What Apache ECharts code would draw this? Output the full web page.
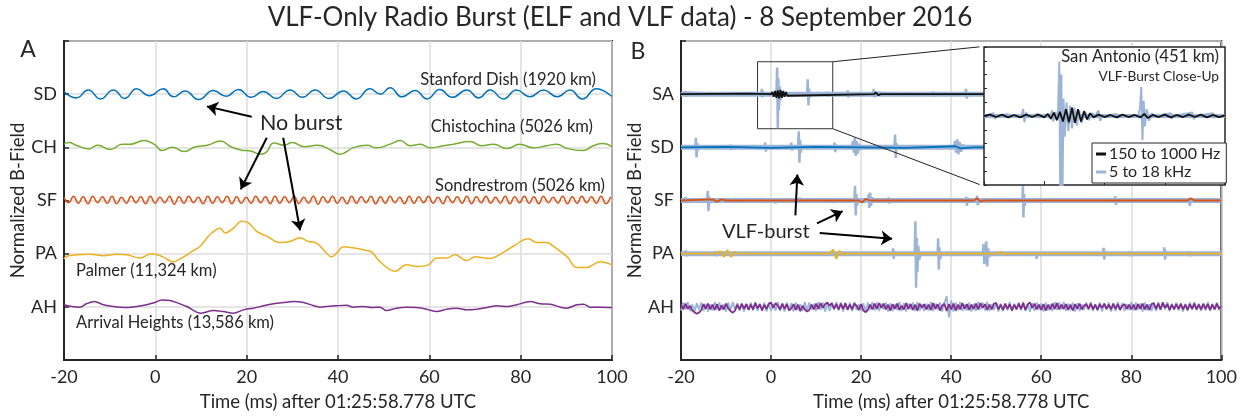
<!DOCTYPE html>
<html><head><meta charset="utf-8">
<script src="https://cdn.jsdelivr.net/npm/echarts@6/dist/echarts.min.js"></script>
<style>html,body{margin:0;padding:0;background:#fff}#c{width:1240px;height:417px}</style>
</head><body><div id="c"></div>
<script>
// ---------- labels ----------
const xTicks = [-20, 0, 20, 40, 60, 80, 100];
const stationsA = ['AH', 'PA', 'SF', 'CH', 'SD'];   // levels 1..5
const stationsB = ['AH', 'PA', 'SF', 'SD', 'SA'];   // levels 1..5

// ---------- Panel A (ELF, offsets from station level) ----------
const sdA = [[-20,0.05],[-17.3,-0.07],[-14.7,0.08],[-12,-0.09],[-9.2,0.08],[-6.7,-0.08],[-4.1,0.1],[-1.3,-0.03],[1.7,0.1],[4,-0.05],[6.5,0.06],[9.5,-0.1],[12.7,0.07],[15.5,-0.04],[18.2,0.09],[21,-0.06],[23.6,0.05],[26.5,-0.08],[29.5,0.08],[32.2,-0.06],[35,0.08],[38,-0.08],[41.2,0.06],[44,-0.09],[47,0.1],[49.3,0],[51.4,0.12],[54,-0.05],[56.9,0.07],[59.5,-0.09],[62.3,0.09],[65,-0.06],[68.2,0.08],[70.8,-0.07],[73.3,0.08],[76.2,-0.09],[79.1,0.08],[82,-0.05],[85,0.08],[88,-0.05],[90.8,0.08],[93.5,-0.09],[96.6,0.1],[99.9,-0.04]];
const chA = [[-20,0.06],[-18.9,0.09],[-17.4,0.04],[-14.5,-0.03],[-12.7,0.04],[-9.8,-0.04],[-7.2,0.06],[-5.4,0.06],[-2.5,0.13],[-0.3,0.06],[1.5,-0.06],[3.7,0],[6.3,-0.08],[8.8,0.01],[11.4,0.04],[14.3,0.12],[16.5,0.01],[18.7,-0.05],[20.9,-0.07],[23.1,-0.13],[24.2,-0.1],[26,0.08],[28.2,0.04],[30,0.09],[32.6,0.01],[35.5,0.04],[38.4,-0.05],[40.4,-0.13],[43.3,-0.01],[46.3,0.04],[48.5,-0.01],[51.4,0.06],[53.6,0.13],[55.8,0.03],[58,0.06],[60.2,-0.01],[63.1,0.03],[65.3,0.06],[68.9,0.11],[71.5,0.03],[74,0.06],[77,-0.02],[79.8,0.06],[82.8,-0.01],[85.7,0.03],[87.9,0.06],[90.1,-0.02],[93.7,-0.06],[95.9,0.03],[98.1,0.07],[100,0.01]];
// Sondrestrom: extrema every ~1.05 ms starting at -20
const sfA_t0 = -20, sfA_dt = 1.05;
const sfA = [0.06,-0.04,0.08,-0.05,0.07,-0.06,0.08,-0.04,0.07,-0.05,
0.08,-0.06,0.06,-0.05,0.08,-0.04,0.07,-0.06,0.08,-0.05,
0.06,-0.04,0.08,-0.07,0.07,-0.05,0.08,-0.04,0.06,-0.06,
0.08,-0.05,0.07,-0.04,0.08,-0.06,0.07,-0.05,0.06,-0.05,
0.08,-0.04,0.07,-0.06,0.08,-0.05,0.07,-0.04,0.08,-0.06,
0.06,-0.05,0.08,-0.07,0.07,-0.04,0.08,-0.05,0.06,-0.06,
0.08,-0.05,0.07,-0.04,0.08,-0.06,0.07,-0.05,0.08,-0.04,
0.06,-0.06,0.08,-0.05,0.07,-0.04,0.08,-0.05,0.06,-0.06,
0.08,-0.04,0.07,-0.05,0.08,-0.06,0.07,-0.04,0.08,-0.05,
0.06,-0.05,0.08,-0.06,0.07,-0.04,0.08,-0.05,0.07,-0.06,
0.08,-0.04,0.06,-0.05,0.08,-0.06,0.07,-0.05,0.08,-0.04,
0.07,-0.05,0.08,-0.06,0.07];
const paA = [[-20,-0.1],[-19.4,-0.05],[-17.2,-0.02],[-14.3,-0.01],[-11.4,-0.04],[-8.5,-0.01],[-6.3,-0.02],[-3.4,-0.08],[-0.8,0],[1.7,-0.06],[3.9,-0.15],[5.8,-0.08],[8,0.04],[9.8,0.14],[12,0.36],[14.2,0.48],[15.3,0.39],[17.1,0.48],[18.9,0.61],[20.4,0.58],[22.2,0.42],[24.4,0.33],[27.3,0.21],[29.5,0.23],[31.7,0.3],[33.5,0.23],[35.3,0.2],[36.8,0.075],[38.6,-0.06],[39.7,0.01],[41.2,0.13],[43.3,0.11],[46.3,0.06],[47.4,0.03],[49.2,-0.15],[52.5,-0.33],[55,-0.21],[57.2,-0.24],[59.8,-0.21],[61.6,-0.08],[63.8,-0.08],[65.6,-0.02],[68.2,-0.13],[70,-0.06],[73.3,-0.09],[74.7,-0.05],[78.4,0.14],[81.7,0.28],[83.5,0.21],[85.7,0.21],[87.1,0.14],[90.1,-0.05],[92.3,-0.26],[94.4,-0.26],[97.4,-0.15],[100,-0.21]];
const ahA = [[-20,0.04],[-18.3,0.006],[-16.5,-0.006],[-15.1,0.057],[-13.3,0.1],[-11.4,0.04],[-9.2,0.006],[-6.3,-0.013],[-4.1,0.006],[-1.9,0.04],[-0.1,0.08],[1.4,0.13],[3.2,0.12],[5,0.07],[6.9,0.006],[9.8,-0.12],[12.7,-0.07],[14.9,-0.09],[17.1,-0.12],[19.3,-0.057],[21.5,-0.025],[23.7,0.02],[25.9,0.057],[28.1,0.08],[30.3,0.1],[32.5,0.08],[34.7,0.02],[36.1,-0.006],[37.5,0.006],[39.7,0.02],[41.9,0.03],[43.3,-0.006],[45.5,0.006],[47.4,-0.013],[49.2,-0.006],[50.6,-0.07],[52.8,-0.025],[55,-0.006],[57.2,-0.013],[59.4,-0.044],[61.6,-0.09],[63.8,-0.044],[66,-0.025],[68.2,-0.057],[70.4,-0.044],[72.6,-0.013],[74.8,0.02],[77,0.006],[79.2,0.04],[82.1,0.1],[84.3,0.057],[86.5,0.05],[88.7,-0.006],[90.1,-0.025],[92.3,0.04],[93.8,0.05],[95.2,-0.006],[97.4,-0.006],[100,-0.013]];

// ---------- Panel B (VLF = light blue, ELF = colour) ----------
const vlfBand = [[-20,0],[100,0]];   // background VLF noise level
const saVLF = [[-20,0],[-18.9,0.05],[-18.8,-0.05],[-18.6,0.03],[-18.4,0],[-10.6,0],[-10.5,0.04],[-10.4,-0.04],[-10.3,0],[-2.2,0],[-2.05,0.1],[-1.95,-0.06],[-1.8,0.05],[-1.6,0],[1.2,0],[1.35,0.5],[1.5,-0.64],[1.62,0.3],[1.75,-0.3],[1.9,0.15],[2.05,-0.12],[2.3,0.05],[2.6,0],[8.0,0],[8.15,0.28],[8.3,-0.21],[8.45,0.1],[8.6,-0.06],[8.8,0],[12.4,0],[12.5,0.05],[12.6,-0.05],[12.7,0],[16.8,0],[17,0.07],[17.15,-0.06],[17.35,0],[22.6,0],[22.8,0.09],[22.95,-0.06],[23.15,0.03],[23.4,0],[29.9,0],[30,0.04],[30.1,-0.04],[30.2,0],[35.9,0],[36,0.05],[36.1,-0.05],[36.2,0],[43.1,0],[43.3,0.1],[43.45,-0.08],[43.65,0],[100,0]];
const saELF = [[-20,0],[-5,0.01],[0,0],[0.3,0.04],[0.6,-0.05],[0.9,0.06],[1.2,-0.07],[1.5,0.07],[1.8,-0.08],[2.1,0.08],[2.4,-0.07],[2.7,0.06],[3.0,-0.05],[3.3,0.04],[3.6,-0.03],[4,0],[22.8,0],[23.3,0.03],[23.8,-0.02],[24.3,0],[100,0]];
const sdVLF = [[-20,0],[-16.8,0],[-16.7,0.18],[-16.55,-0.19],[-16.4,0.08],[-16.25,-0.06],[-16.1,0],[-9.1,0],[-9,0.05],[-8.9,-0.05],[-8.8,0],[-1.4,0],[-1.3,0.09],[-1.15,-0.08],[-1,0.04],[-0.9,0],[4.4,0],[4.5,0.09],[4.65,-0.06],[4.8,0],[6.0,0],[6.15,0.3],[6.3,-0.29],[6.45,0.14],[6.6,-0.1],[6.8,0.04],[7.0,0],[14.0,0],[14.1,0.09],[14.25,-0.09],[14.4,0.05],[14.5,0],[17.9,0],[18.2,0.12],[18.4,-0.1],[18.6,0.18],[18.8,-0.16],[19.0,0.12],[19.2,-0.12],[19.5,0.07],[19.8,-0.05],[20.1,0],[27.4,0],[27.55,0.24],[27.7,-0.2],[27.85,0.08],[28,0],[40.6,0],[40.9,0.12],[41.1,-0.1],[41.4,0.15],[41.6,-0.13],[41.9,0.1],[42.2,-0.08],[42.6,0.05],[43,0],[100,0]];
const sdELF = [[-20,0],[-10,0.01],[0,-0.01],[10,0.01],[20,0],[30,-0.01],[41,0.02],[42,-0.02],[45,0],[100,0]];
const sfVLF = [[-20,0],[-18.9,0.05],[-18.8,-0.05],[-18.7,0],[-14.2,0],[-14.05,0.18],[-13.9,-0.2],[-13.75,0.08],[-13.6,-0.05],[-13.4,0],[-8.1,0],[-8,0.05],[-7.9,-0.05],[-7.8,0],[-2.1,0],[-2,0.05],[-1.9,-0.05],[-1.8,0],[0.8,0],[0.9,0.05],[1,-0.06],[1.1,0],[6.3,0],[6.4,0.06],[6.5,-0.04],[6.6,0],[13.5,0],[13.6,0.05],[13.7,-0.05],[13.8,0],[18.5,0],[18.65,0.27],[18.8,-0.28],[18.95,0.12],[19.1,-0.1],[19.3,0],[21.5,0],[21.7,0.12],[21.85,-0.14],[22.0,0.15],[22.2,-0.1],[22.4,0.06],[22.7,0],[26,0],[26.1,0.06],[26.2,-0.06],[26.3,0],[43.2,0],[43.35,0.07],[43.5,-0.1],[43.7,0.05],[43.9,0],[45.6,0],[45.75,0.09],[45.9,-0.09],[46.1,0],[55.8,0],[55.95,0.27],[56.05,-0.32],[56.2,0.12],[56.35,-0.1],[56.5,0],[59.9,0],[60,0.05],[60.1,-0.05],[60.2,0],[76.3,0],[76.45,0.08],[76.6,-0.08],[76.8,0],[92.7,0],[92.85,0.05],[93,-0.1],[93.15,0],[100,0]];
const sfELF = [[-20,0],[-13,0.02],[-12,-0.02],[-11,0.02],[-10,0],[19.5,0],[20.2,-0.04],[21,0.03],[22,0],[45,0],[45.8,0.04],[46.5,-0.02],[47,0],[92.5,0],[93.3,0.04],[94,0],[100,0]];
const paVLF = [[-20,0],[-18.8,0.05],[-18.7,-0.05],[-18.6,0],[-12.3,0],[-12.2,0.05],[-12.1,-0.05],[-12,0],[27,0],[27.1,0.1],[27.25,-0.1],[27.4,0.05],[27.5,0],[31.9,0],[32.05,0.61],[32.2,-0.64],[32.35,0.3],[32.5,-0.35],[32.7,0.15],[32.9,-0.12],[33.2,0],[37,0],[37.1,0.29],[37.25,-0.3],[37.4,0.12],[37.55,-0.1],[37.8,0],[47.0,0],[47.2,0.18],[47.35,-0.2],[47.55,0.1],[47.8,0.23],[48.0,-0.24],[48.2,0.1],[48.5,-0.06],[48.8,0],[58.9,0],[59,-0.1],[59.1,0],[73.7,0],[73.85,0.11],[74,-0.11],[74.2,0.05],[74.4,0],[79.6,0],[79.7,0.05],[79.8,-0.05],[79.9,0],[87.2,0],[87.35,0.12],[87.5,-0.11],[87.7,0.05],[87.9,0],[92.8,0],[92.9,0.05],[93,-0.05],[93.1,0],[100,0]];
const paELF = [[-20,0],[-12,0],[-11.3,0.05],[-10.5,-0.06],[-9.7,0.07],[-8.9,-0.06],[-8.1,0.03],[-7.3,0],[13,0],[13.8,0.08],[14.5,-0.1],[15.2,0.06],[15.9,-0.02],[16.5,0],[50.5,0],[51.1,0.04],[51.7,-0.02],[52.3,0],[100,0]];
// Arrival Heights: noisy traces, one value every 0.5 ms from -20
const ahB_t0 = -20, ahB_dt = 0.5;
const ahELF = [0.04,-0.05,0.06,-0.04,0.02,-0.07,-0.10,-0.13,-0.11,-0.06,
0.05,-0.04,0.06,-0.05,0.04,-0.06,0.05,-0.07,0.03,-0.05,
0.06,-0.03,-0.08,-0.11,-0.07,0.04,-0.05,0.06,-0.04,0.05,
-0.06,0.04,-0.05,0.07,-0.03,0.05,-0.07,0.04,-0.04,0.06,
0.08,-0.02,0.07,0.02,-0.05,0.06,-0.04,0.05,-0.07,-0.03,
0.05,-0.06,0.04,-0.08,0.02,-0.05,-0.09,-0.06,0.04,-0.05,
0.06,-0.04,0.07,-0.02,0.05,0.08,0.02,0.07,-0.04,0.05,
-0.05,0.06,-0.04,0.07,-0.06,0.04,-0.05,0.06,0.02,-0.06,
0.05,-0.07,-0.10,-0.06,0.04,-0.05,0.06,-0.04,0.07,-0.02,
0.06,-0.05,0.04,-0.07,0.05,-0.04,0.06,-0.06,0.02,-0.05,
0.07,-0.04,0.05,-0.06,0.04,-0.07,0.06,-0.02,0.05,-0.05,
0.04,-0.06,0.07,-0.04,0.05,-0.07,0.02,0.06,-0.08,0.05,
-0.05,0.06,-0.07,0.04,-0.05,0.07,-0.04,0.05,-0.06,0.04,
-0.04,0.06,-0.05,0.07,-0.02,0.05,-0.06,0.04,-0.05,0.06,
0.07,-0.05,0.04,-0.06,0.06,-0.04,0.05,-0.07,0.04,-0.05,
0.06,-0.04,0.07,-0.06,0.05,0.08,-0.02,0.06,-0.05,0.04,
-0.06,0.05,-0.07,0.04,-0.05,0.06,-0.04,0.07,-0.05,0.04,
-0.04,0.05,-0.06,0.04,-0.07,0.05,-0.04,0.06,-0.05,0.02,
0.05,-0.04,0.06,-0.05,0.04,-0.06,0.05,-0.02,0.06,-0.04,
0.04,-0.05,0.06,-0.04,0.05,-0.06,0.02,0.05,-0.04,0.04,
-0.05,0.04,-0.06,0.05,-0.04,0.06,-0.05,0.04,-0.06,0.05,
0.07,-0.04,0.06,-0.05,0.08,-0.02,0.05,-0.06,0.04,-0.05,
0.05,-0.04,0.06,-0.05,0.04,-0.06,0.05,-0.04,0.06,-0.05,
0.04,-0.05,0.06,-0.04,0.05,-0.06,0.04,-0.05,0.06,-0.04,
0.02];
const ahVLF = [-0.07,0.08,-0.05,0.09,-0.08,0.05,-0.09,0.07,-0.05,0.08,
-0.08,0.06,-0.09,0.05,-0.07,0.09,-0.05,0.08,-0.06,0.05,
-0.09,0.08,-0.06,0.09,-0.05,0.07,-0.08,0.05,-0.09,0.06,
-0.05,0.08,-0.07,0.09,-0.08,0.06,-0.05,0.08,-0.09,0.07,
-0.08,0.05,-0.07,0.09,-0.08,0.06,-0.09,0.08,-0.05,0.07,
-0.09,0.08,-0.06,0.05,-0.08,0.09,-0.07,0.08,-0.05,0.06,
-0.08,0.09,-0.06,0.08,-0.09,0.05,-0.08,0.07,-0.05,0.09,
-0.07,0.08,-0.09,0.06,-0.05,0.08,-0.08,0.09,-0.06,0.05,
-0.08,0.07,-0.09,0.08,-0.05,0.09,-0.07,0.08,-0.08,0.06,
-0.05,0.08,-0.09,0.07,-0.08,0.05,-0.06,0.09,-0.08,0.07,
-0.09,0.06,-0.05,0.08,-0.08,0.09,-0.07,0.05,-0.08,0.06,
-0.07,0.09,-0.08,0.06,-0.05,0.08,-0.09,0.08,0.2,-0.2,
0.12,-0.09,0.08,-0.06,0.09,-0.08,0.05,-0.07,0.08,-0.09,
0.06,-0.08,0.09,-0.05,0.08,-0.07,0.09,-0.08,0.05,-0.06,
0.08,-0.09,0.06,-0.08,0.05,-0.07,0.09,-0.08,0.06,-0.05,
0.08,-0.07,0.09,-0.08,0.05,-0.09,0.07,-0.08,0.08,-0.05,
0.06,-0.09,0.08,-0.07,0.05,-0.08,0.09,-0.06,0.08,-0.05,
0.09,-0.08,0.06,-0.05,0.08,-0.09,0.07,-0.08,0.05,-0.06,
0.08,-0.06,0.09,-0.08,0.05,-0.07,0.08,-0.09,0.06,-0.05,
0.08,-0.09,0.06,-0.08,0.09,-0.05,0.07,-0.08,0.05,-0.06,
0.09,-0.07,0.08,-0.05,0.06,-0.09,0.08,-0.07,0.05,-0.08,
0.06,-0.08,0.09,-0.06,0.08,-0.05,0.09,-0.08,0.06,-0.05,
0.08,-0.07,0.05,-0.09,0.06,-0.08,0.08,-0.05,0.09,-0.06,
0.06,-0.08,0.05,-0.07,0.09,-0.08,0.06,-0.05,0.08,-0.06,
0.03];

// ---------- Inset: San Antonio close-up ----------
const insetBand = [[-5,0],[15,0]];
const insetVLF = [[-5,0],[-4.2,0.04],[-4.1,-0.04],[-3.9,0],[-3.0,0.03],[-2.9,-0.03],[-2.8,0],[-1.9,0],[-1.75,0.1],[-1.65,-0.09],[-1.5,0.05],[-1.35,0],[-0.5,0.03],[-0.4,-0.03],[-0.3,0],[0.5,0],[0.65,0.08],[0.75,-0.08],[0.9,0.06],[1.0,-0.05],[1.15,0.1],[1.25,0.79],[1.33,-1.3],[1.42,0.6],[1.5,-1.3],[1.6,0.25],[1.7,-0.3],[1.85,0.2],[2.0,-0.22],[2.15,0.15],[2.3,-0.18],[2.5,0.12],[2.7,-0.14],[2.9,0.08],[3.1,-0.1],[3.4,0.06],[3.7,-0.06],[4.0,0.04],[4.2,0],[4.5,0.08],[4.65,-0.07],[4.8,0],[6.0,0.03],[6.1,-0.03],[6.2,0],[7.8,0],[7.95,0.12],[8.05,0.42],[8.15,-0.35],[8.25,0.22],[8.35,-0.15],[8.5,0.1],[8.7,-0.07],[8.9,0.04],[9.2,0],[10.5,0.04],[10.6,-0.04],[10.7,0],[12.3,0.05],[12.4,-0.05],[12.5,0],[14,0.04],[14.1,-0.03],[14.2,0],[15,0]];
const insetELF = [[-5,0],[-4.5,0.02],[-4,-0.015],[-3.5,0.02],[-3,-0.02],[-2.5,0.015],[-2,-0.02],[-1.5,0.02],[-1,-0.015],[-0.5,0.02],[0,-0.02],[0.3,0.03],[0.55,-0.04],[0.8,0.05],[1.05,-0.06],[1.3,0.06],[1.55,-0.08],[1.8,0.1],[2.05,-0.09],[2.3,0.12],[2.55,-0.1],[2.8,0.1],[3.05,-0.08],[3.3,0.07],[3.55,-0.05],[3.8,0.04],[4.1,-0.02],[4.5,0.02],[5,-0.015],[5.5,0.015],[6,-0.02],[6.5,0.02],[7,-0.015],[7.5,0.015],[8,-0.02],[8.3,0.03],[8.6,-0.03],[9,0.015],[9.5,-0.015],[10,0.02],[10.5,-0.02],[11,0.015],[11.5,-0.015],[12,0.02],[12.5,-0.015],[13,0.02],[13.5,-0.02],[14,0.015],[14.5,-0.015],[15,0.01]];

// ---------- annotations (data coordinates) ----------
const arrowsA = [[[21.1,4.575],[11.3,4.77]],[[24.4,4.18],[18.7,3.21]],[[28.0,4.18],[31.7,2.44]]];
const arrowsB = [[[5.4,2.72],[5.84,3.49]],[[10.2,2.57],[15.9,2.8]],[[10.8,2.39],[26.9,2.28]]];
const zoomBox = [[-3.0,5.61],[13.7,4.35]];
const connectors = [[[13.7,5.61],[46.3,5.89]],[[13.7,4.35],[46.3,3.3]]];

// ---------- build ----------
const F = "Lato, 'Open Sans', 'DejaVu Sans', sans-serif";
const TXT = '#262626';
const C = {SD:'#0072BD', CH:'#77AC30', SF:'#D95319', PA:'#EDB120', AH:'#7E2F8E', SA:'#111111', VLF:'#9cb5d6'};
const lv = (arr, level) => arr.map(p => [p[0], level + p[1]]);
const uv = (vals, t0, dt, level) => vals.map((v, i) => [t0 + i * dt, level + v]);

function line(name, data, gi, color, width, opts) {
  return Object.assign({
    type:'line', name, data, xAxisIndex:gi, yAxisIndex:gi,
    showSymbol:false, symbol:'none', smooth:false, clip:true, silent:true,
    lineStyle:{color, width}, itemStyle:{color}, emphasis:{disabled:true}, z:2
  }, opts || {});
}
function xAxisMain(gi) {
  return {type:'value', gridIndex:gi, min:-20, max:100, interval:20,
    axisLine:{show:true, onZero:false, lineStyle:{color:TXT, width:2}},
    axisTick:{show:true, inside:true, length:5, lineStyle:{color:TXT, width:1.5}},
    axisLabel:{color:TXT, fontSize:18, fontFamily:F, margin:8},
    splitLine:{show:true, lineStyle:{color:'#dcdcdc', width:1.5}},
    name:'Time (ms) after 01:25:58.778 UTC', nameLocation:'middle', nameGap:33,
    nameTextStyle:{color:TXT, fontSize:18.5, fontFamily:F}};
}
function yAxisMain(gi, labels) {
  return {type:'value', gridIndex:gi, min:0, max:6, interval:1,
    axisLine:{show:true, onZero:false, lineStyle:{color:TXT, width:2}},
    axisTick:{show:true, inside:true, length:5, lineStyle:{color:TXT, width:1.5}},
    axisLabel:{color:TXT, fontSize:18, fontFamily:F, margin:7, formatter:v => labels[v-1] || ''},
    splitLine:{show:true, lineStyle:{color:'#dcdcdc', width:1.5}},
    name:'Normalized B-Field', nameLocation:'middle', nameGap:33,
    nameTextStyle:{color:TXT, fontSize:18.5, fontFamily:F}};
}
const arrowML = (arr) => ({silent:true, symbol:['none','arrow'], symbolSize:11, label:{show:false},
  lineStyle:{color:'#000', width:2, type:'solid'}, emphasis:{disabled:true},
  data: arr.map(a => [{coord:a[0]},{coord:a[1]}])});

const series = [
  line('SD-A', lv(sdA,5), 0, C.SD, 1.5, {smooth:0.5}),
  line('CH-A', lv(chA,4), 0, C.CH, 1.5, {smooth:0.5}),
  line('SF-A', uv(sfA, sfA_t0, sfA_dt, 3), 0, C.SF, 1.5, {smooth:0.5}),
  line('PA-A', lv(paA,2), 0, C.PA, 1.5, {smooth:0.4}),
  line('AH-A', lv(ahA,1), 0, C.AH, 1.5, {smooth:0.3, markLine:arrowML(arrowsA)}),

  line('SA-band', lv(vlfBand,5), 1, C.VLF, 5),
  line('SA-VLF', lv(saVLF,5), 1, C.VLF, 2.5),
  line('SA-ELF', lv(saELF,5), 1, C.SA, 1.8, {
    markArea:{silent:true, itemStyle:{color:'rgba(0,0,0,0)', borderColor:'#333', borderWidth:1},
      data:[[{coord:zoomBox[0]},{coord:zoomBox[1]}]]},
    markLine:{silent:true, symbol:['none','none'], label:{show:false}, emphasis:{disabled:true},
      lineStyle:{color:'#222', width:1, type:'solid'},
      data: connectors.map(a => [{coord:a[0]},{coord:a[1]}])}}),
  line('SD-band', lv(vlfBand,4), 1, C.VLF, 5),
  line('SD-VLF', lv(sdVLF,4), 1, C.VLF, 2.5),
  line('SD-ELF', lv(sdELF,4), 1, C.SD, 1.8),
  line('SF-band', lv(vlfBand,3), 1, C.VLF, 5),
  line('SF-VLF', lv(sfVLF,3), 1, C.VLF, 2.5),
  line('SF-ELF', lv(sfELF,3), 1, C.SF, 1.8),
  line('PA-band', lv(vlfBand,2), 1, C.VLF, 5),
  line('PA-VLF', lv(paVLF,2), 1, C.VLF, 2.5),
  line('PA-ELF', lv(paELF,2), 1, C.PA, 1.8, {markLine:arrowML(arrowsB)}),
  line('AH-VLF', uv(ahVLF, ahB_t0, ahB_dt, 1), 1, C.VLF, 1.8),
  line('AH-ELF', uv(ahELF, ahB_t0, ahB_dt, 1), 1, C.AH, 1.8),

  line('inset band', lv(insetBand,0), 2, C.VLF, 4, {z:10}),
  line('5 to 18 kHz', lv(insetVLF,0), 2, C.VLF, 2, {z:10}),
  line('150 to 1000 Hz', lv(insetELF,0), 2, C.SA, 1.8, {z:11})
];

const option = {
  animation:false,
  backgroundColor:'#fff',
  grid:[
    {left:64, top:41, width:548, height:320, show:true, borderColor:TXT, borderWidth:2, backgroundColor:'rgba(0,0,0,0)'},
    {left:681, top:41, width:548, height:320, show:true, borderColor:TXT, borderWidth:2, backgroundColor:'rgba(0,0,0,0)'},
    {left:984, top:47, width:241, height:138, show:false}
  ],
  xAxis:[xAxisMain(0), xAxisMain(1),
    {type:'value', gridIndex:2, min:-5, max:15, interval:5, z:12,
     axisLine:{show:false, onZero:false}, axisLabel:{show:false}, splitLine:{show:false},
     axisTick:{show:true, inside:true, length:4, lineStyle:{color:TXT, width:1}}}],
  yAxis:[yAxisMain(0, stationsA), yAxisMain(1, stationsB),
    {type:'value', gridIndex:2, min:-1, max:1, interval:0.2, z:12,
     axisLine:{show:false, onZero:false}, axisLabel:{show:false}, splitLine:{show:false},
     axisTick:{show:true, inside:true, length:3, lineStyle:{color:TXT, width:1}}}],
  legend:{data:['150 to 1000 Hz','5 to 18 kHz'], left:1092, top:143, orient:'vertical', z:20,
    icon:'rect', itemWidth:10, itemHeight:3, itemGap:2, selectedMode:false,
    backgroundColor:'#fff', borderColor:TXT, borderWidth:1, borderRadius:0, padding:[3,6,3,4],
    textStyle:{color:TXT, fontSize:16, fontFamily:F, padding:[0,0,0,-2]}},
  graphic:[
    {type:'rect', shape:{x:984, y:47, width:241, height:138}, style:{fill:'#fff', stroke:TXT, lineWidth:1.5}, z:5},
    {type:'text', x:620, y:18, z:50, style:{text:'VLF-Only Radio Burst (ELF and VLF data) - 8 September 2016', fill:TXT, font:'26px '+F, textAlign:'center', textVerticalAlign:'middle'}},
    {type:'text', x:28, y:50, z:50, style:{text:'A', fill:TXT, font:'23px '+F, textAlign:'center', textVerticalAlign:'middle'}},
    {type:'text', x:638, y:52, z:50, style:{text:'B', fill:TXT, font:'23px '+F, textAlign:'center', textVerticalAlign:'middle'}},
    {type:'text', x:596, y:80, z:50, style:{text:'Stanford Dish (1920 km)', fill:TXT, font:'16.5px '+F, textAlign:'right', textVerticalAlign:'middle'}},
    {type:'text', x:593, y:127, z:50, style:{text:'Chistochina (5026 km)', fill:TXT, font:'16.5px '+F, textAlign:'right', textVerticalAlign:'middle'}},
    {type:'text', x:605, y:186, z:50, style:{text:'Sondrestrom (5026 km)', fill:TXT, font:'16.5px '+F, textAlign:'right', textVerticalAlign:'middle'}},
    {type:'text', x:76, y:271, z:50, style:{text:'Palmer (11,324 km)', fill:TXT, font:'16.5px '+F, textAlign:'left', textVerticalAlign:'middle'}},
    {type:'text', x:76, y:323, z:50, style:{text:'Arrival Heights (13,586 km)', fill:TXT, font:'16.5px '+F, textAlign:'left', textVerticalAlign:'middle'}},
    {type:'text', x:260, y:123, z:50, style:{text:'No burst', fill:TXT, font:'21.5px '+F, textAlign:'left', textVerticalAlign:'middle'}},
    {type:'text', x:722, y:232, z:50, style:{text:'VLF-burst', fill:TXT, font:'20px '+F, textAlign:'left', textVerticalAlign:'middle'}},
    {type:'text', x:1219, y:57, z:50, style:{text:'San Antonio (451 km)', fill:TXT, font:'16.7px '+F, textAlign:'right', textVerticalAlign:'middle'}},
    {type:'text', x:1219, y:77, z:50, style:{text:'VLF-Burst Close-Up', fill:TXT, font:'13.7px '+F, textAlign:'right', textVerticalAlign:'middle'}}
  ],
  series
};
const chart = echarts.init(document.getElementById('c'), null, {renderer:'canvas'});
chart.setOption(option);
</script></body></html>
